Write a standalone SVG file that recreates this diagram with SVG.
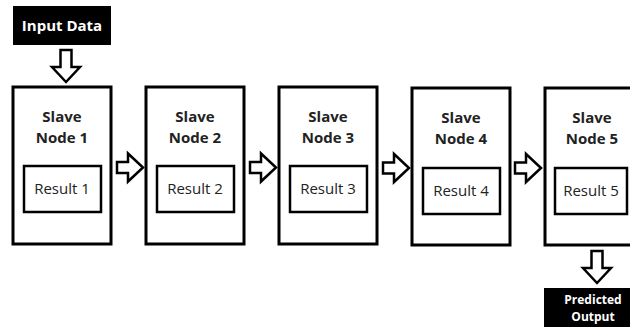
<svg xmlns="http://www.w3.org/2000/svg" width="630" height="327" viewBox="0 0 630 327">
<defs>
<style>
.node{fill:#fff;stroke:#000;stroke-width:3}
.inner{fill:#fff;stroke:#000;stroke-width:2.5}
.title{font-family:"Open Sans","Noto Sans",sans-serif;font-weight:bold;font-size:15px;fill:#222;text-anchor:middle}
.res{font-family:"Open Sans","Noto Sans",sans-serif;font-size:15px;fill:#222;text-anchor:middle}
.lbl{font-family:"Open Sans","Noto Sans",sans-serif;font-weight:bold;font-size:15px;fill:#fff;text-anchor:middle}
.lbl2{font-family:"Open Sans","Noto Sans",sans-serif;font-weight:bold;font-size:12px;fill:#fff;text-anchor:middle}
.arr{fill:#fff;stroke:#000;stroke-width:2.5;stroke-linejoin:miter}
</style>
<path id="ra" d="M0,-5.5 H11 V-14 L26,0 L11,14 V5.5 H0 Z"/>
<path id="da" d="M-5.5,0 H5.5 V17 H14 L0,32 L-14,17 H-5.5 Z"/>
</defs>
<rect width="630" height="327" fill="#fff"/>
<g id="input">
<rect x="13" y="6" width="98" height="39" fill="#000"/>
<text class="lbl" x="62" y="31">Input Data</text>
</g>
<g id="node1">
<rect class="node" x="13" y="87" width="98" height="157"/>
<text class="title" x="62" y="122">Slave</text>
<text class="title" x="62" y="142.5">Node 1</text>
<rect class="inner" x="24" y="166" width="77" height="46"/>
<text class="res" x="62" y="194">Result 1</text>
</g>
<g id="node2">
<rect class="node" x="146" y="87" width="98" height="157"/>
<text class="title" x="195" y="122">Slave</text>
<text class="title" x="195" y="142.5">Node 2</text>
<rect class="inner" x="157" y="166" width="77" height="46"/>
<text class="res" x="195" y="194">Result 2</text>
</g>
<g id="node3">
<rect class="node" x="279" y="87" width="98" height="157"/>
<text class="title" x="328" y="122">Slave</text>
<text class="title" x="328" y="142.5">Node 3</text>
<rect class="inner" x="290" y="166" width="77" height="46"/>
<text class="res" x="328" y="194">Result 3</text>
</g>
<g id="node4">
<rect class="node" x="412" y="88" width="98" height="157"/>
<text class="title" x="461" y="123">Slave</text>
<text class="title" x="461" y="143.5">Node 4</text>
<rect class="inner" x="423" y="168" width="77" height="46"/>
<text class="res" x="461" y="196">Result 4</text>
</g>
<g id="node5">
<rect class="node" x="545" y="88" width="98" height="157"/>
<text class="title" x="592" y="123">Slave</text>
<text class="title" x="592" y="143.5">Node 5</text>
<rect class="inner" x="555" y="168" width="72" height="46"/>
<text class="res" x="591" y="196">Result 5</text>
</g>
<g id="output">
<rect x="544" y="288" width="90" height="40" fill="#000"/>
<text class="lbl2" x="593" y="304">Predicted</text>
<text class="lbl2" x="593" y="321">Output</text>
</g>
<g id="connectors">
<use href="#da" class="arr" x="66" y="50"/>
<use href="#ra" class="arr" x="117" y="167.5"/>
<use href="#ra" class="arr" x="250" y="167.5"/>
<use href="#ra" class="arr" x="383" y="168"/>
<use href="#ra" class="arr" x="515" y="168"/>
<use href="#da" class="arr" x="597" y="251"/>
</g>
</svg>
